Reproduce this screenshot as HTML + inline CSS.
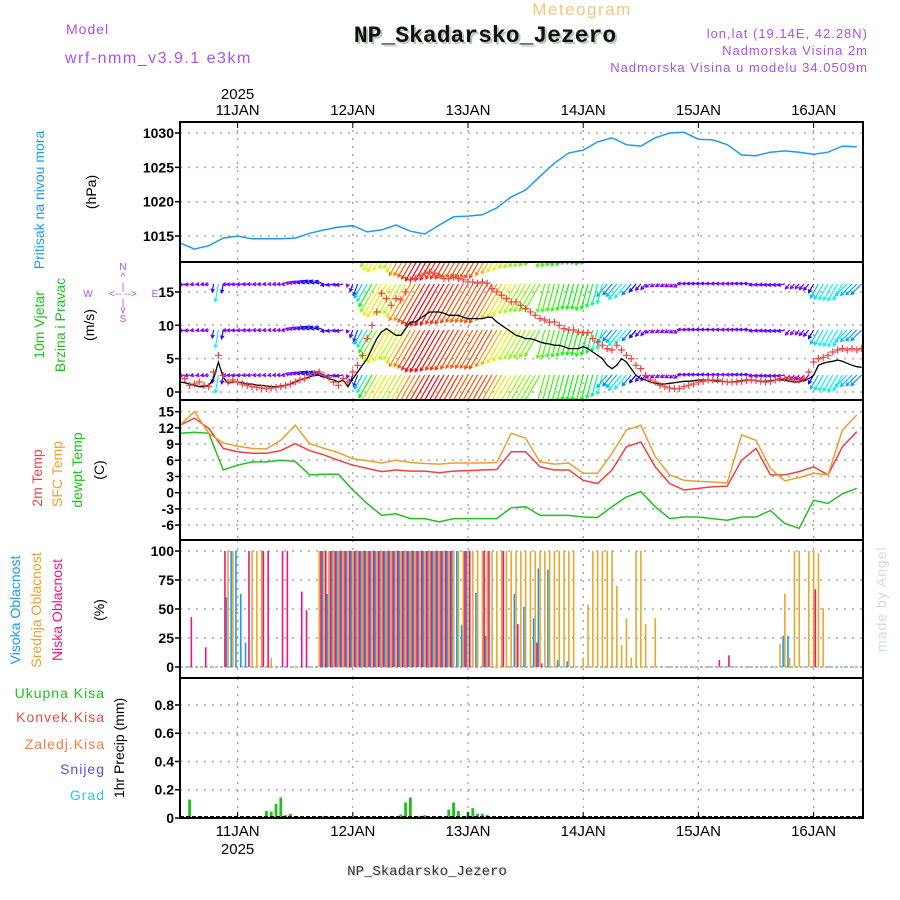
<!DOCTYPE html>
<html><head><meta charset="utf-8"><style>
html,body{margin:0;padding:0;background:#fff;}
svg{display:block;font-family:"Liberation Sans",sans-serif;}
</style></head><body>
<svg id="chart" width="900" height="900" viewBox="0 0 900 900" xmlns="http://www.w3.org/2000/svg">
<defs>
<clipPath id="cpP"><rect x="180" y="122" width="683" height="140"/></clipPath>
<clipPath id="cpW"><rect x="180" y="262" width="683" height="138"/></clipPath>
<clipPath id="cpT"><rect x="180" y="400" width="683" height="140"/></clipPath>
<clipPath id="cpC"><rect x="180" y="540" width="683" height="138"/></clipPath>
<clipPath id="cpR"><rect x="180" y="678" width="683" height="140"/></clipPath>
</defs>
<g>
<text x="582" y="15" font-size="17" fill="#f3c67c" text-anchor="middle" letter-spacing="1.5">Meteogram</text>
<text x="487" y="44" font-size="23" font-weight="bold" fill="#b8c8b8" text-anchor="middle" font-family="Liberation Mono, monospace">NP_Skadarsko_Jezero</text>
<text x="485" y="42" font-size="23" font-weight="bold" fill="#111" text-anchor="middle" font-family="Liberation Mono, monospace">NP_Skadarsko_Jezero</text>
<text x="66" y="34" font-size="14" fill="#b050e8" letter-spacing="1">Model</text>
<text x="65" y="63" font-size="16" fill="#b050e8" letter-spacing="1.5">wrf-nmm_v3.9.1 e3km</text>
<text x="868" y="38" font-size="13" fill="#b050e8" text-anchor="end" letter-spacing="1">lon,lat (19.14E, 42.28N)</text>
<text x="868" y="55" font-size="13" fill="#b050e8" text-anchor="end" letter-spacing="1">Nadmorska Visina 2m</text>
<text x="868" y="72" font-size="13" fill="#b050e8" text-anchor="end" letter-spacing="1">Nadmorska Visina u modelu 34.0509m</text>
<text x="428" y="876" font-size="14" fill="#c8d8c8" text-anchor="middle" font-family="Liberation Mono, monospace">NP_Skadarsko_Jezero</text>
<text x="427" y="875" font-size="14" fill="#333" text-anchor="middle" font-family="Liberation Mono, monospace">NP_Skadarsko_Jezero</text>
<text transform="translate(886,652) rotate(-90)" font-size="14" fill="#d0e0d0" letter-spacing="1">made by Angel</text>
</g>
<g font-size="14">
<text transform="translate(44,200) rotate(-90)" fill="#1e9be8" text-anchor="middle">Pritisak na nivou mora</text>
<text transform="translate(96,192) rotate(-90)" fill="#000" text-anchor="middle">(hPa)</text>
<text transform="translate(44,325) rotate(-90)" fill="#20c020" text-anchor="middle">10m Vjetar</text>
<text transform="translate(65,325) rotate(-90)" fill="#20c020" text-anchor="middle">Brzina i Pravac</text>
<text transform="translate(94,325) rotate(-90)" fill="#000" text-anchor="middle">(m/s)</text>
<g fill="#b050e8" font-size="10" text-anchor="middle">
<text x="123" y="270">N</text><text x="123" y="280">^</text><text x="123" y="290">|</text>
<text x="88" y="297">W</text><text x="123" y="297">&lt;-- --&gt;</text><text x="155" y="297">E</text>
<text x="123" y="306">|</text><text x="123" y="313">v</text><text x="123" y="322">S</text>
</g>
<text transform="translate(42,478) rotate(-90)" fill="#f04040" text-anchor="middle">2m Temp</text>
<text transform="translate(62,474) rotate(-90)" fill="#e8a030" text-anchor="middle">SFC Temp</text>
<text transform="translate(82,470) rotate(-90)" fill="#20c020" text-anchor="middle">dewpt Temp</text>
<text transform="translate(104,470) rotate(-90)" fill="#000" text-anchor="middle">(C)</text>
<text transform="translate(20,610) rotate(-90)" fill="#1e9be8" text-anchor="middle">Visoka Oblacnost</text>
<text transform="translate(41,610) rotate(-90)" fill="#e8a030" text-anchor="middle">Srednja Oblacnost</text>
<text transform="translate(62,610) rotate(-90)" fill="#f0167c" text-anchor="middle">Niska Oblacnost</text>
<text transform="translate(104,610) rotate(-90)" fill="#000" text-anchor="middle">(%)</text>
<g text-anchor="end" font-size="14" letter-spacing="1">
<text x="105" y="698" fill="#20c020">Ukupna Kisa</text>
<text x="105" y="722" fill="#f04848">Konvek.Kisa</text>
<text x="105" y="749" fill="#f08040">Zaledj.Kisa</text>
<text x="105" y="774" fill="#5050f0">Snijeg</text>
<text x="105" y="800" fill="#30c8d8">Grad</text>
</g>
<text transform="translate(124,748) rotate(-90)" fill="#000" text-anchor="middle">1hr Precip (mm)</text>
</g>
<g id="plot"></g>
</svg>
<script>
// ---- data ----
const dayLabels = ["11JAN","12JAN","13JAN","14JAN","15JAN","16JAN"];
const dayHours = [12,36,60,84,108,132];
const pressureTicks = [1015,1020,1025,1030];
const windTicks = [0,5,10,15];
const tempTicks = [-6,-3,0,3,6,9,12,15];
const cloudTicks = [0,25,50,75,100];
const precipTicks = [0,0.2,0.4,0.6,0.8];
const precipTickLabels = ["0","0.2","0.4","0.6","0.8"];
// 3-hourly series (h = 0,3,...,141)
const pressure = [1014.0,1013.1,1013.6,1014.7,1015.0,1014.6,1014.6,1014.6,1014.7,1015.4,1015.9,1016.3,1016.5,1015.6,1015.9,1016.6,1015.7,1015.3,1016.6,1017.8,1017.9,1018.1,1019.1,1020.7,1021.7,1023.7,1025.6,1027.1,1027.5,1028.7,1029.3,1028.3,1028.1,1029.3,1030.0,1030.1,1029.1,1029.0,1028.3,1026.8,1026.7,1027.2,1027.4,1027.2,1026.9,1027.2,1028.1,1028.0];
const temp2m = [12.5,13.8,11.9,8.2,7.6,7.3,7.3,7.8,9.1,7.8,7.0,6.0,5.1,4.5,3.9,4.2,4.0,4.0,3.7,4.0,4.1,4.2,4.3,7.6,7.6,4.8,4.2,4.2,2.3,1.7,4.2,8.5,9.4,4.8,1.7,0.5,0.8,1.1,1.2,6.0,8.2,3.3,3.3,3.9,4.8,3.3,8.5,11.3];
const tempSfc = [12.5,15.0,11.0,9.2,8.6,8.2,8.1,9.7,12.5,9.1,8.2,7.4,6.3,5.9,5.5,6.0,5.6,5.4,5.3,5.5,5.5,5.5,5.6,11.0,10.1,5.7,5.3,5.5,3.6,3.6,7.3,11.6,12.5,6.7,3.3,2.3,2.1,2.0,1.8,10.7,9.7,4.5,2.2,2.8,3.6,3.3,11.6,14.4];
const dewpt = [11.0,11.2,11.0,4.2,5.1,5.7,5.7,6.0,5.8,3.3,3.4,3.4,0.5,-2.0,-4.2,-3.9,-4.8,-4.8,-5.4,-4.8,-4.8,-4.8,-4.8,-2.8,-2.6,-4.2,-4.2,-4.2,-4.5,-4.6,-2.6,-0.8,0.2,-2.6,-4.8,-4.5,-4.5,-4.8,-5.1,-4.5,-4.5,-3.3,-5.7,-6.6,-1.4,-2.0,-0.2,0.8];
// hourly series (h = 0..142)
const windSpeed = [1.5,1.4,1.2,1.0,0.8,0.8,1.0,2.0,4.5,2.2, 1.3,1.5,1.5,1.4,1.2,1.2,1.0,1.0,0.9,0.8, 0.8,0.9,1.0,1.2,1.5,1.8,2.0,2.3,2.5,2.5, 2.3,2.0,1.8,1.5,1.8,0.8, 2.0,3.0,4.0,5.0,6.5,8.0,9.0,9.5,9.0,8.5, 8.5,9.5,10.5,10.5,11.0,11.5,12.0,12.0,12.0,11.8, 11.5,11.5,11.5,11.2,11.0,11.0,11.0,11.0,11.2,11.2, 10.5,10.0,9.5,9.0,8.5,8.3,8.0,8.0,7.8,7.5, 7.3,7.2,7.0,7.0,6.8,6.5,6.5,6.5,6.8,6.5, 6.0,5.5,5.0,4.0,3.5,4.0,5.0,4.5,3.5,2.5, 2.0,1.8,1.5,1.3,1.2,1.2,1.3,1.4,1.5,1.6, 1.6,1.7,1.8,1.8,1.8,1.7,1.6,1.6,1.5,1.5, 1.6,1.7,1.8,1.8,1.7,1.6,1.6,1.7,1.8,1.8, 1.8,1.6,1.5,1.5,1.8,2.0,2.5,4.0,4.3,4.5, 4.6,4.8,4.6,4.3,4.0,3.8,3.7];
const windDir = [80,80,80,80,80,80,80,10,10,10, 85,85,85,85,85,85,85,85,85,85, 85,85,85,110,110,110,110,110,110,110, 110,80,80,80,80,20, 20,20,30,30,30,30,30,30,30,30, 30,30,30,30,30,30,30,30,30,30, 30,30,30,30,30,30,30,30,30,30, 30,30,30,30,30,30,30,30,30,30, 15,15,15,15,15,15,15,15,15,15, 15,15,15,40,40,40,40,40,40,40, 40,40,60,60,60,60,60,60,60,95, 95,95,95,95,95,95,95,95,95,95, 95,95,95,95,80,80,80,80,80,80, 80,40,40,40,40,40,30,30,30,30, 30,30,30,45,45,45,45];
const gust = [2.5,2.0,1.0,1.2,1.5,1.0,0.8,3.0,5.5,2.5, 1.5,1.8,1.5,1.2,1.0,0.8,0.7,0.6,0.5,0.6, 0.7,0.8,1.0,1.2,1.5,1.8,2.0,2.5,2.8,3.0, 2.5,2.2,1.5,1.0,2.0,1.5, 3.0,4.0,5.5,8.0,10.0,12.0,14.8,14.0,13.0,14.0, 13.8,15.0,16.8,17.0,17.5,17.8,18.0,17.8,17.5,17.0, 17.0,17.2,17.0,16.8,16.5,16.5,16.3,16.5,16.3,15.5, 15.0,14.5,14.0,13.5,13.5,13.0,12.5,12.0,11.5,11.0, 10.8,10.5,10.5,10.0,9.5,9.3,9.3,9.0,8.9,8.9, 8.0,7.5,7.0,6.5,6.3,7.0,6.3,5.5,5.0,4.0, 3.5,2.5,1.8,1.5,1.0,0.8,0.6,0.5,0.5,0.8, 1.0,1.2,1.5,1.6,1.8,1.8,1.8,1.6,1.5,1.5, 1.5,1.6,1.7,1.8,1.7,1.6,1.5,1.6,1.8,2.0, 2.0,2.0,1.8,1.8,2.0,3.0,4.5,5.0,5.2,5.5, 6.0,6.3,6.5,6.3,6.5,6.3,6.5];
const cloudHigh = [0,0,0,0,0,0,0,0,0,0, 60,100,100,63,21,0,0,0,0,0, 0,0,0,0,0,0,0,0,0,0, 100,63,100,100,100,100,100,100,100,100, 100,100,100,100,100,100,100,100,100,100, 100,100,100,100,100,100,100,100,100,36, 100,0,64,0,27,0,0,0,0,0, 63,0,52,0,42,85,0,84,0,6, 0,5,0,0,0,0,0,0,0,0, 0,0,0,0,0,0,0,0,0,0, 0,0,0,0,0,0,0,0,0,0, 0,0,0,0,0,0,0,0,0,0, 0,0,0,0,0,0,27,27,0,0, 0,0,0,0,0,0,0,0,0,0, 0,0,0];
const cloudMid = [0,0,0,0,0,0,0,0,0,0, 100,100,0,0,0,100,100,100,0,8, 0,0,0,0,0,0,0,0,0,100, 100,100,100,100,100,100,100,100,100,100, 100,100,100,100,100,100,100,100,100,100, 100,100,100,100,100,100,100,100,100,100, 100,100,100,100,100,100,100,100,100,100, 100,100,100,100,100,100,100,100,100,100, 100,100,100,0,8,54,100,100,100,100, 100,70,19,42,8,100,100,37,0,42, 0,0,0,0,0,0,0,0,0,0, 0,0,0,0,0,0,0,0,0,0, 0,0,0,0,0,20,63,8,100,100, 0,100,100,98,51,0,0,0,0,0, 0,0,0];
const cloudLow = [0,0,43,0,0,17,0,0,0,100, 0,0,0,0,100,0,0,100,100,0, 0,100,100,0,0,65,49,0,0,100, 100,100,100,100,100,100,100,100,100,100, 100,100,100,100,100,100,100,100,100,100, 100,100,100,100,100,100,100,0,0,100, 100,0,0,100,100,0,0,100,0,0, 37,0,0,0,21,3,0,0,0,0, 0,0,0,0,0,0,0,0,0,0, 0,0,0,0,0,0,0,0,0,0, 0,0,0,0,0,0,0,0,0,0, 0,0,6,0,10,0,0,0,0,0, 0,0,0,0,0,0,0,0,0,0, 0,0,67,0,0,0,0,0,0,0, 0,0,0];
const precip = [0,0,0.13,0,0,0,0,0,0,0, 0,0,0,0,0,0,0,0.01,0.05,0.045, 0.1,0.145,0.02,0.03,0,0,0,0,0,0, 0.015,0.01,0,0,0.01,0,0,0,0,0, 0,0,0,0,0,0,0.025,0.11,0.145,0, 0.015,0.02,0,0,0,0,0.06,0.11,0.05,0, 0.04,0.07,0.03,0.03,0.02,0,0,0,0,0, 0,0,0,0,0,0,0,0,0,0, 0,0,0,0,0,0,0,0,0,0, 0,0,0,0,0,0,0,0,0,0, 0,0,0,0,0,0,0,0,0,0, 0,0,0,0,0,0,0,0,0,0, 0,0,0,0,0,0,0,0,0,0, 0,0,0,0,0,0,0,0,0,0, 0,0,0];

// ---- scales ----
const X0 = 180, X1 = 863, PXH = 4.8;
const xT = h => X0 + h * PXH;
const yP = v => 133 + (1030 - v) * 6.87;
const yW = v => 392 - v * 6.67;
const yTmp = v => 411.7 + (15 - v) * 5.4;
const yC = v => 667 - v * 1.16;
const yR = v => 818 - v * 141.3;

const NS = "http://www.w3.org/2000/svg";
const plot = document.getElementById("plot");
function mk(tag, attrs, parent) {
  const e = document.createElementNS(NS, tag);
  for (const k in attrs) e.setAttribute(k, attrs[k]);
  (parent || plot).appendChild(e);
  return e;
}
const panels = [
  {name:"pressure-panel", y0:122, y1:262, clip:"cpP", ticks:pressureTicks, labels:pressureTicks.map(String), sc:yP},
  {name:"wind-panel", y0:262, y1:400, clip:"cpW", ticks:windTicks, labels:windTicks.map(String), sc:yW},
  {name:"temperature-panel", y0:400, y1:540, clip:"cpT", ticks:tempTicks, labels:tempTicks.map(String), sc:yTmp},
  {name:"cloud-panel", y0:540, y1:678, clip:"cpC", ticks:cloudTicks, labels:cloudTicks.map(String), sc:yC},
  {name:"precip-panel", y0:678, y1:818, clip:"cpR", ticks:precipTicks, labels:precipTickLabels, sc:yR}
];
panels.forEach(p => {
  const g = mk("g", {});
  
  
  p.ticks.forEach((t, i) => {
    const y = p.sc(t);
    const gl = mk("line", {x1:X0, x2:X1, y1:y, y2:y, stroke:"#aaa", "stroke-width":1.5, "stroke-dasharray":"2,6"}, g);
    
    
    const tk = mk("line", {x1:X0-5, x2:X0, y1:y, y2:y, stroke:"#000", "stroke-width":1.5}, g);
    
    
    const tl = mk("text", {x:X0-6, y:y+5, "font-size":14, "font-weight":"bold", "text-anchor":"end", fill:"#000"}, g);
    
    
    tl.textContent = p.labels[i];
  });
  dayHours.forEach(h => {
    const vl = mk("line", {x1:xT(h), x2:xT(h), y1:p.y0, y2:p.y1, stroke:"#aaa", "stroke-width":1.5, "stroke-dasharray":"2,6"}, g);
    
    
  });
  p.g = mk("g", {"clip-path":"url(#" + p.clip + ")"}, g);
});

function linePath(vals, step, sc) {
  return vals.map((v, i) => (i ? "L" : "M") + xT(i * step).toFixed(1) + "," + sc(v).toFixed(1)).join("");
}
const pl = mk("path", {d:linePath(pressure, 3, yP), fill:"none", stroke:"#1e9be8", "stroke-width":1.5}, panels[0].g);



// wind arrows
function hueFor(s) {
  let hh;
  if (s < 6.5) hh = 270 - (s - 1.5) * 30;
  else hh = 120 - (s - 6.5) * 22;
  if (hh > 270) hh = 270;
  if (hh < 0) hh += 360;
  return hh;
}
const windG = panels[1].g;
const rows = [239, 284, 330, 375];
windSpeed.forEach((s, i) => {
  const to = (windDir[i] + 180) * Math.PI / 180;
  const L = s * 4.0;
  const dx = L * Math.sin(to), dy = -L * Math.cos(to);
  const col = "hsl(" + hueFor(s).toFixed(0) + ",95%,50%)";
  const ang = Math.atan2(dy, dx);
  rows.forEach(r => {
    const x = xT(i), hx = x + dx, hy = r + dy;
    const a1 = ang + Math.PI - 0.5, a2 = ang + Math.PI + 0.5;
    const d = "M" + x.toFixed(1) + "," + r + "L" + hx.toFixed(1) + "," + hy.toFixed(1) +
      "M" + (hx + 3.5 * Math.cos(a1)).toFixed(1) + "," + (hy + 3.5 * Math.sin(a1)).toFixed(1) + "L" + hx.toFixed(1) + "," + hy.toFixed(1) +
      "L" + (hx + 3.5 * Math.cos(a2)).toFixed(1) + "," + (hy + 3.5 * Math.sin(a2)).toFixed(1);
    const ar = mk("path", {d:d, stroke:col, "stroke-width":1.2, fill:"none"}, windG);
    
    
  });
});
const wl = mk("path", {d:linePath(windSpeed, 1, yW), fill:"none", stroke:"#000", "stroke-width":1.3}, windG);


gust.forEach((v, i) => {
  const x = xT(i), y = yW(v);
  const gm = mk("path", {d:"M" + (x-3.5) + "," + y + "h7M" + x + "," + (y-3.5) + "v7", stroke:"#f04040", "stroke-width":1.2}, windG);
  
  
});

// temperature
[[dewpt, "#20c020", "dewpoint-line"], [temp2m, "#f04040", "temp-2m-line"], [tempSfc, "#e8a030", "temp-sfc-line"]].forEach(s => {
  const tl = mk("path", {d:linePath(s[0], 3, yTmp), fill:"none", stroke:s[1], "stroke-width":1.5}, panels[2].g);
  
  
});

// clouds
const cg = panels[3].g;
const zl = mk("line", {x1:X0, x2:X1, y1:yC(0), y2:yC(0), stroke:"#9ab", "stroke-width":1.5, "stroke-dasharray":"3,2"}, cg);


[[cloudHigh, "#1e9be8", -1.7, "cloud-high-bar"], [cloudMid, "#e8a830", 0, "cloud-mid-bar"], [cloudLow, "#f0167c", 1.7, "cloud-low-bar"]].forEach(s => {
  s[0].forEach((v, i) => {
    if (v <= 0) return;
    const b = mk("rect", {x:(xT(i) + s[2] - 0.75).toFixed(2), y:yC(v).toFixed(1), width:1.6, height:(yC(0) - yC(v)).toFixed(1), fill:s[1]}, cg);
    
    
  });
});

// precip
const rg = panels[4].g;
precip.forEach((v, i) => {
  if (v <= 0) return;
  const b = mk("rect", {x:(xT(i) - 1.4).toFixed(1), y:yR(v).toFixed(1), width:2.8, height:(yR(0) - yR(v)).toFixed(1), fill:"#20c020"}, rg);
  
  
});
const pz = mk("line", {x1:X0, x2:X1, y1:817, y2:817, stroke:"#000", "stroke-width":2, "stroke-dasharray":"4,2"}, rg);



panels.forEach(p => {
  const br = mk("rect", {x:X0, y:p.y0, width:X1 - X0, height:p.y1 - p.y0, fill:"none", stroke:"#000", "stroke-width":2});
  
  
});
dayHours.forEach((h, i) => {
  const x = xT(h);
  const t1 = mk("line", {x1:x, x2:x, y1:122, y2:128, stroke:"#000", "stroke-width":1});
  
  
  const t2 = mk("line", {x1:x, x2:x, y1:812, y2:818, stroke:"#000", "stroke-width":1});
  
  
  const lt = mk("text", {x:x, y:115, "font-size":15, "text-anchor":"middle", fill:"#000"});
  
  
  lt.textContent = dayLabels[i];
  const lb = mk("text", {x:x, y:836, "font-size":15, "text-anchor":"middle", fill:"#000"});
  
  
  lb.textContent = dayLabels[i];
});
const y1 = mk("text", {x:xT(dayHours[0]), y:99, "font-size":15, "text-anchor":"middle", fill:"#000"});


y1.textContent = "2025";
const y2 = mk("text", {x:xT(dayHours[0]), y:854, "font-size":15, "text-anchor":"middle", fill:"#000"});


y2.textContent = "2025";
</script>
</body></html>
